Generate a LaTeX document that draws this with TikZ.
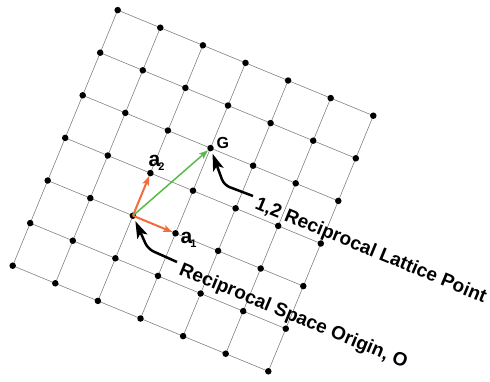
\documentclass[tikz,border=0pt]{standalone}
\usepackage{fontspec}
\setmainfont{Liberation Sans}
\usepackage{tikz}
\usetikzlibrary{arrows.meta,positioning,backgrounds}
\definecolor{latgray}{HTML}{808080}
\definecolor{vecorange}{HTML}{F26C3C}
\definecolor{vecgreen}{HTML}{5BBA47}
\tikzset{
  dot/.style={circle,fill=black,inner sep=0pt,minimum size=6.5pt},
  gridline/.style={latgray,line width=0.6pt},
  basisvec/.style={vecorange,line width=2pt,-{Stealth[length=9pt,width=7pt,inset=2pt]}},
  gvec/.style={vecgreen,line width=1.5pt,-{Stealth[length=9pt,width=7pt,inset=2pt]}},
  pointer/.style={line width=2.5pt,rounded corners=6pt,-{Stealth[length=17pt,width=11pt,inset=4pt]},shorten >=2.5pt},
  lbl/.style={font=\fontsize{19}{20}\selectfont\bfseries,inner sep=0pt,anchor=base west,rotate=-22.5},
  veclbl/.style={font=\fontsize{21}{22}\selectfont\bfseries,inner sep=0pt,anchor=base west}
}
\newcommand{\subidx}[1]{\kern-2pt\raisebox{-4pt}{\fontsize{11}{11}\selectfont #1}}

\begin{document}
\begin{tikzpicture}[x=1pt,y=-1pt]
\useasboundingbox (0,0) rectangle (490,381);
% lattice points, origin O is p22
\begin{scope}[shift={(12.7,265.7)},x={(42.6pt,-17.6pt)},y={(17.5pt,42.6pt)}]
\foreach \i in {0,...,6}
  \foreach \j in {0,...,6}
    \node[dot] (p\i\j) at (\i,\j) {};
\end{scope}
\begin{scope}[on background layer]
\foreach \k in {0,...,6} {
  \draw[gridline] (p0\k.center) -- (p6\k.center);
  \draw[gridline] (p\k0.center) -- (p\k6.center);
}
\end{scope}
% basis vectors and G
\draw[basisvec] (p22.center) -- (p32);
\draw[basisvec] (p22.center) -- (p23);
\draw[gvec] (p22.center) -- (p34);
\node[veclbl] (a1lbl) at (180.5,243.5) {a\subidx{1}};
\node[veclbl] (a2lbl) at (148.5,166.5) {a\subidx{2}};
\node[font=\fontsize{16}{16}\selectfont\bfseries,inner sep=0pt,anchor=base west] (glbl) at (216.5,148) {G};
% callouts
\node[lbl] (olbl) at (178,274) {Reciprocal Space Origin, O};
\node[lbl] (ptlbl) at (254,208) {1,2 Reciprocal Lattice Point};
\coordinate (otail) at (177,262);
\coordinate (obend) at (148,249);
\draw[pointer] (otail) -- (obend) -- (p22);
\coordinate (gtail) at (253,196);
\coordinate (gbend) at (224,185);
\draw[pointer] (gtail) -- (gbend) -- (p34);
\end{tikzpicture}
\end{document}
